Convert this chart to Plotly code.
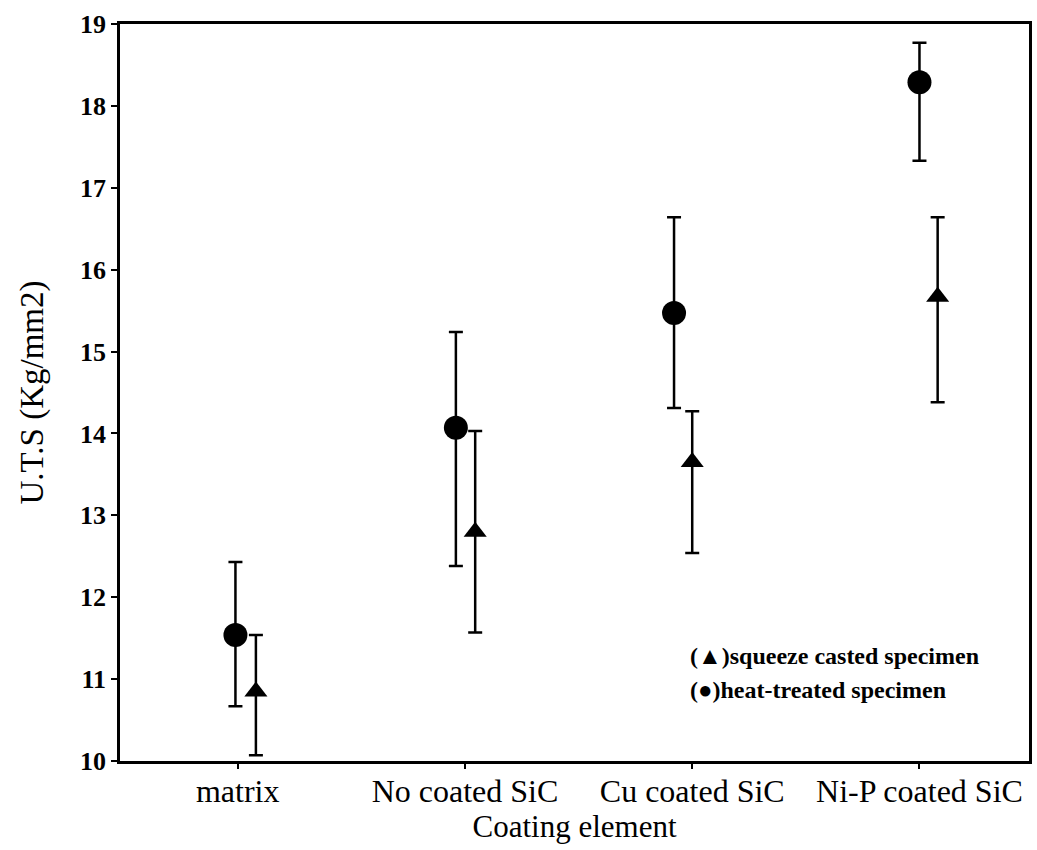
import plotly.graph_objects as go

categories = ["matrix", "No coated SiC", "Cu coated SiC", "Ni-P coated SiC"]

# heat-treated specimen (circles)
heat_mean = [11.54, 14.07, 15.47, 18.29]
heat_upper = [12.43, 15.24, 16.64, 18.77]
heat_lower = [10.67, 12.38, 14.31, 17.33]

# squeeze casted specimen (triangles)
squeeze_mean = [10.85, 12.80, 13.65, 15.67]
squeeze_upper = [11.54, 14.03, 14.27, 16.64]
squeeze_lower = [10.07, 11.57, 12.54, 14.38]

# small horizontal offsets of each marker from its category tick
heat_offset = [-0.01, -0.04, -0.08, 0.0]
squeeze_offset = [0.08, 0.045, 0.0, 0.08]

idx = list(range(len(categories)))
heat_x = [i + o for i, o in zip(idx, heat_offset)]
squeeze_x = [i + o for i, o in zip(idx, squeeze_offset)]

fig = go.Figure()

fig.add_trace(go.Scatter(
    x=heat_x, y=heat_mean, mode="markers",
    marker=dict(symbol="circle", size=24, color="black"),
    error_y=dict(type="data", symmetric=False,
                 array=[u - m for u, m in zip(heat_upper, heat_mean)],
                 arrayminus=[m - l for m, l in zip(heat_mean, heat_lower)],
                 color="black", thickness=2.5, width=7),
    showlegend=False, name="heat-treated specimen"))

fig.add_trace(go.Scatter(
    x=squeeze_x, y=squeeze_mean, mode="markers",
    marker=dict(symbol="triangle-up", size=20, color="black"),
    error_y=dict(type="data", symmetric=False,
                 array=[u - m for u, m in zip(squeeze_upper, squeeze_mean)],
                 arrayminus=[m - l for m, l in zip(squeeze_mean, squeeze_lower)],
                 color="black", thickness=2.5, width=7),
    showlegend=False, name="squeeze casted specimen"))

serif = "Liberation Serif, Times New Roman, serif"

fig.add_annotation(x=0.625, y=0.143, xref="paper", yref="paper", xanchor="left", yanchor="middle",
                   text="(\u25b2)squeeze casted specimen", showarrow=False,
                   font=dict(family=serif, size=24, color="black", weight="bold"))
fig.add_annotation(x=0.625, y=0.096, xref="paper", yref="paper", xanchor="left", yanchor="middle",
                   text="(\u25cf)heat-treated specimen", showarrow=False,
                   font=dict(family=serif, size=24, color="black", weight="bold"))

fig.update_layout(
    width=1037, height=850,
    margin=dict(l=120, r=5, t=24, b=89),
    plot_bgcolor="white", paper_bgcolor="white",
    font=dict(family=serif, color="black"),
    xaxis=dict(
        range=[-0.518, 3.482],
        tickmode="array", tickvals=idx, ticktext=categories,
        ticks="outside", ticklen=5, tickwidth=2, tickcolor="black",
        showline=True, linecolor="black", linewidth=2.5, mirror=True,
        showgrid=False, zeroline=False,
        ticklabelstandoff=-5,
        tickfont=dict(family=serif, size=32, color="black"),
        title=dict(text="Coating element", font=dict(family=serif, size=31, color="black"), standoff=0),
    ),
    yaxis=dict(
        range=[10, 19], dtick=1,
        ticks="outside", ticklen=6, tickwidth=2, tickcolor="black",
        showline=True, linecolor="black", linewidth=2.5, mirror=True,
        showgrid=False, zeroline=False,
        tickfont=dict(family=serif, size=26, color="black", weight="bold"),
        title=dict(text="U.T.S (Kg/mm2)", font=dict(family=serif, size=33, color="black"), standoff=27),
    ),
)

fig.write_html("out.html")
